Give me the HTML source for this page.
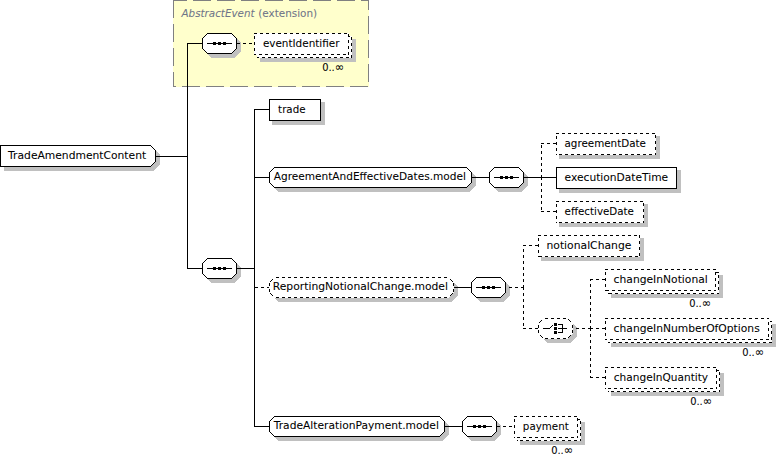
<!DOCTYPE html>
<html lang="en">
<head>
<meta charset="utf-8">
<title>TradeAmendmentContent</title>
<style>
html,body{margin:0;padding:0;background:#fff;}
body{width:777px;height:455px;overflow:hidden;}
svg{display:block;}
.bx{fill:#fff;stroke:#000;stroke-width:1;shape-rendering:crispEdges;}
.bg0{fill:#fff;stroke:none;shape-rendering:crispEdges;}
.bx.d{fill:none;}
.ln{fill:none;stroke:#000;stroke-width:1;shape-rendering:crispEdges;}
.d{stroke-dasharray:3 3;}
.sh{fill:#c0c0c0;stroke:#c0c0c0;stroke-width:1;shape-rendering:crispEdges;}
.shf{fill:#c0c0c0;shape-rendering:crispEdges;}
.bg{fill:#fff;shape-rendering:crispEdges;}
.k{fill:#000;shape-rendering:crispEdges;}
.yb{fill:none;stroke:#808080;stroke-width:1;stroke-dasharray:18 6;shape-rendering:crispEdges;}
text{font-family:"DejaVu Sans", "Liberation Sans", sans-serif;font-size:10.5px;fill:#000;stroke:#000;stroke-width:0.05px;}
.g{fill:#6e7488;stroke:#6e7488;font-size:11.2px;}
.i{font-style:italic;}
.o{text-anchor:end;}
.inf{font-size:12px;}
</style>
</head>
<body>
<svg width="777" height="455" viewBox="0 0 777 455">
<g>
<rect x="173" y="0" width="196" height="87" fill="#ffffcc" shape-rendering="crispEdges"/>
<line class="yb" x1="173" y1="0.5" x2="369" y2="0.5" stroke-dashoffset="4"/>
<line class="yb" x1="368.5" y1="0" x2="368.5" y2="87" stroke-dashoffset="8"/>
<line class="yb" x1="369" y1="86.5" x2="173" y2="86.5" stroke-dashoffset="23"/>
<line class="yb" x1="173.5" y1="87" x2="173.5" y2="0" stroke-dashoffset="3"/>
<text class="g i" x="181.5" y="17.2" textLength="73" lengthAdjust="spacingAndGlyphs">AbstractEvent</text>
<text class="g" x="258.2" y="16.7" textLength="59" lengthAdjust="spacingAndGlyphs">(extension)</text>
</g>
<g>
<polygon class="shf" points="4,148 153.5,148 160,154.5 160,164.5 153.5,171 4,171"/>
<polygon class="shf" points="205,42.5 211.5,36 234.5,36 241,42.5 241,51.5 234.5,58 211.5,58 205,51.5"/>
<polygon class="shf" points="205,267.5 211.5,261 234.5,261 241,267.5 241,276.5 234.5,283 211.5,283 205,276.5"/>
<rect class="shf" x="260" y="39" width="96" height="23"/>
<rect class="shf" x="272" y="102" width="53" height="23"/>
<polygon class="shf" points="272,176.5 278.5,170 469.5,170 476,176.5 476,185.5 469.5,192 278.5,192 272,185.5"/>
<polygon class="shf" points="492,176.5 498.5,170 521.5,170 528,176.5 528,185.5 521.5,192 498.5,192 492,185.5"/>
<rect class="shf" x="559" y="136" width="101" height="23"/>
<rect class="shf" x="559" y="170" width="122" height="23"/>
<rect class="shf" x="559" y="204" width="89" height="23"/>
<polygon class="shf" points="272,286.5 278.5,280 451.5,280 458,286.5 458,295.5 451.5,302 278.5,302 272,295.5"/>
<polygon class="shf" points="474,286.5 480.5,280 503.5,280 510,286.5 510,295.5 503.5,302 480.5,302 474,295.5"/>
<rect class="shf" x="541" y="238" width="103" height="23"/>
<polygon class="shf" points="541,327.5 547.5,321 570.5,321 577,327.5 577,336.5 570.5,343 547.5,343 541,336.5"/>
<rect class="shf" x="611" y="275" width="112" height="23"/>
<rect class="shf" x="611" y="324" width="165" height="23"/>
<rect class="shf" x="611" y="373" width="113" height="23"/>
<polygon class="shf" points="272,425.5 278.5,419 442.5,419 449,425.5 449,434.5 442.5,441 278.5,441 272,434.5"/>
<polygon class="shf" points="465,425.5 471.5,419 494.5,419 501,425.5 501,434.5 494.5,441 471.5,441 465,434.5"/>
<rect class="shf" x="520" y="422" width="65" height="23"/>
</g>
<g>
<line class="ln" x1="156" y1="156.5" x2="188" y2="156.5"/>
<line class="ln" x1="187.5" y1="43" x2="187.5" y2="269"/>
<line class="ln" x1="187" y1="43.5" x2="203" y2="43.5"/>
<line class="ln" x1="187" y1="268.5" x2="203" y2="268.5"/>
<line class="ln d" x1="237" y1="43.5" x2="254" y2="43.5"/>
<line class="ln" x1="237" y1="268.5" x2="255" y2="268.5"/>
<line class="ln" x1="254.5" y1="109" x2="254.5" y2="427"/>
<line class="ln" x1="254" y1="109.5" x2="270" y2="109.5"/>
<line class="ln" x1="254" y1="177.5" x2="270" y2="177.5"/>
<line class="ln d" x1="255" y1="287.5" x2="269" y2="287.5"/>
<line class="ln" x1="254" y1="426.5" x2="270" y2="426.5"/>
<line class="ln" x1="472" y1="177.5" x2="490" y2="177.5"/>
<line class="ln" x1="524" y1="177.5" x2="557" y2="177.5"/>
<line class="ln d" x1="541.5" y1="178" x2="541.5" y2="143"/>
<line class="ln d" x1="541.5" y1="177" x2="541.5" y2="212"/>
<line class="ln d" x1="541" y1="143.5" x2="556" y2="143.5"/>
<line class="ln d" x1="541" y1="211.5" x2="556" y2="211.5"/>
<line class="ln" x1="454" y1="287.5" x2="472" y2="287.5"/>
<line class="ln d" x1="524" y1="287.5" x2="506" y2="287.5"/>
<line class="ln d" x1="523.5" y1="288" x2="523.5" y2="245"/>
<line class="ln d" x1="523.5" y1="287" x2="523.5" y2="329"/>
<line class="ln d" x1="523" y1="245.5" x2="538" y2="245.5"/>
<line class="ln d" x1="523" y1="328.5" x2="538" y2="328.5"/>
<line class="ln d" x1="591" y1="328.5" x2="573" y2="328.5"/>
<line class="ln d" x1="590" y1="328.5" x2="605" y2="328.5"/>
<line class="ln d" x1="590.5" y1="329" x2="590.5" y2="279"/>
<line class="ln d" x1="590.5" y1="328" x2="590.5" y2="378"/>
<line class="ln d" x1="590" y1="279.5" x2="605" y2="279.5"/>
<line class="ln d" x1="590" y1="377.5" x2="605" y2="377.5"/>
<line class="ln" x1="445" y1="426.5" x2="463" y2="426.5"/>
<line class="ln d" x1="497" y1="426.5" x2="514" y2="426.5"/>
</g>
<g>
<polygon class="bx" points="0.5,145.5 150.5,145.5 155.5,150.5 155.5,161.5 150.5,166.5 0.5,166.5"/>
<text x="8.14" y="159" textLength="138.02" lengthAdjust="spacingAndGlyphs">TradeAmendmentContent</text>
<polygon class="bx" points="202.5,38.5 207.5,33.5 231.5,33.5 236.5,38.5 236.5,48.5 231.5,53.5 207.5,53.5 202.5,48.5"/>
<line class="ln" x1="207" y1="43.5" x2="232" y2="43.5"/>
<rect class="k" x="213" y="42" width="3" height="3"/>
<rect class="k" x="218" y="42" width="3" height="3"/>
<rect class="k" x="223" y="42" width="3" height="3"/>
<polygon class="bx" points="202.5,263.5 207.5,258.5 231.5,258.5 236.5,263.5 236.5,273.5 231.5,278.5 207.5,278.5 202.5,273.5"/>
<line class="ln" x1="207" y1="268.5" x2="232" y2="268.5"/>
<rect class="k" x="213" y="267" width="3" height="3"/>
<rect class="k" x="218" y="267" width="3" height="3"/>
<rect class="k" x="223" y="267" width="3" height="3"/>
<rect class="bg" x="257" y="36" width="95" height="22"/>
<line class="ln d" x1="257" y1="36.5" x2="352" y2="36.5"/>
<line class="ln d" x1="351.5" y1="36" x2="351.5" y2="58" stroke-dashoffset="5"/>
<line class="ln d" x1="352" y1="57.5" x2="257" y2="57.5" stroke-dashoffset="3"/>
<line class="ln d" x1="257.5" y1="36" x2="257.5" y2="58" stroke-dashoffset="3"/>
<rect class="bg" x="254" y="33" width="95" height="22"/>
<line class="ln d" x1="254" y1="33.5" x2="349" y2="33.5"/>
<line class="ln d" x1="348.5" y1="33" x2="348.5" y2="55" stroke-dashoffset="5"/>
<line class="ln d" x1="349" y1="54.5" x2="254" y2="54.5" stroke-dashoffset="3"/>
<line class="ln d" x1="254.5" y1="33" x2="254.5" y2="55" stroke-dashoffset="3"/>
<text x="262.89" y="47" textLength="76.61" lengthAdjust="spacingAndGlyphs">eventIdentifier</text>
<text x="322.2" y="71.3" textLength="22" lengthAdjust="spacingAndGlyphs">0..<tspan class="inf">∞</tspan></text>
<rect class="bx" x="269.5" y="99.5" width="51" height="21"/>
<text x="278.1" y="113" textLength="27.42" lengthAdjust="spacingAndGlyphs">trade</text>
<polygon class="bx" points="269.5,172.5 274.5,167.5 466.5,167.5 471.5,172.5 471.5,182.5 466.5,187.5 274.5,187.5 269.5,182.5"/>
<text x="273.75" y="180" textLength="192.12" lengthAdjust="spacingAndGlyphs">AgreementAndEffectiveDates.model</text>
<polygon class="bx" points="489.5,172.5 494.5,167.5 518.5,167.5 523.5,172.5 523.5,182.5 518.5,187.5 494.5,187.5 489.5,182.5"/>
<line class="ln" x1="494" y1="177.5" x2="519" y2="177.5"/>
<rect class="k" x="500" y="176" width="3" height="3"/>
<rect class="k" x="505" y="176" width="3" height="3"/>
<rect class="k" x="510" y="176" width="3" height="3"/>
<rect class="bg" x="556" y="133" width="100" height="22"/>
<line class="ln d" x1="556" y1="133.5" x2="656" y2="133.5"/>
<line class="ln d" x1="655.5" y1="133" x2="655.5" y2="155" stroke-dashoffset="4"/>
<line class="ln d" x1="656" y1="154.5" x2="556" y2="154.5" stroke-dashoffset="2"/>
<line class="ln d" x1="556.5" y1="133" x2="556.5" y2="155" stroke-dashoffset="3"/>
<text x="564.48" y="147" textLength="81.46" lengthAdjust="spacingAndGlyphs">agreementDate</text>
<rect class="bx" x="556.5" y="167.5" width="120" height="21"/>
<text x="564.62" y="181" textLength="103.57" lengthAdjust="spacingAndGlyphs">executionDateTime</text>
<rect class="bg" x="556" y="201" width="88" height="22"/>
<line class="ln d" x1="556" y1="201.5" x2="644" y2="201.5"/>
<line class="ln d" x1="643.5" y1="201" x2="643.5" y2="223" stroke-dashoffset="4"/>
<line class="ln d" x1="644" y1="222.5" x2="556" y2="222.5" stroke-dashoffset="2"/>
<line class="ln d" x1="556.5" y1="201" x2="556.5" y2="223" stroke-dashoffset="3"/>
<text x="564.61" y="215" textLength="69.33" lengthAdjust="spacingAndGlyphs">effectiveDate</text>
<polygon class="bg0" points="269,282.5 274.5,277 448.5,277 454,282.5 454,292.5 448.5,298 274.5,298 269,292.5"/>
<path class="k" d="M276 277h3v1h-3zM276 297h3v1h-3zM282 277h3v1h-3zM282 297h3v1h-3zM288 277h3v1h-3zM288 297h3v1h-3zM294 277h3v1h-3zM294 297h3v1h-3zM300 277h3v1h-3zM300 297h3v1h-3zM306 277h3v1h-3zM306 297h3v1h-3zM312 277h3v1h-3zM312 297h3v1h-3zM318 277h3v1h-3zM318 297h3v1h-3zM324 277h3v1h-3zM324 297h3v1h-3zM330 277h3v1h-3zM330 297h3v1h-3zM336 277h3v1h-3zM336 297h3v1h-3zM342 277h3v1h-3zM342 297h3v1h-3zM348 277h3v1h-3zM348 297h3v1h-3zM354 277h3v1h-3zM354 297h3v1h-3zM360 277h3v1h-3zM360 297h3v1h-3zM366 277h3v1h-3zM366 297h3v1h-3zM372 277h3v1h-3zM372 297h3v1h-3zM378 277h3v1h-3zM378 297h3v1h-3zM384 277h3v1h-3zM384 297h3v1h-3zM390 277h3v1h-3zM390 297h3v1h-3zM396 277h3v1h-3zM396 297h3v1h-3zM402 277h3v1h-3zM402 297h3v1h-3zM408 277h3v1h-3zM408 297h3v1h-3zM414 277h3v1h-3zM414 297h3v1h-3zM420 277h3v1h-3zM420 297h3v1h-3zM426 277h3v1h-3zM426 297h3v1h-3zM432 277h3v1h-3zM432 297h3v1h-3zM438 277h3v1h-3zM438 297h3v1h-3zM444 277h3v1h-3zM444 297h3v1h-3zM269 283h1v3h-1zM453 283h1v3h-1zM269 289h1v3h-1zM453 289h1v3h-1zM270 281h1v1h-1zM271 280h1v1h-1zM272 279h1v1h-1zM270 293h1v1h-1zM271 294h1v1h-1zM272 295h1v1h-1zM450 279h1v1h-1zM451 280h1v1h-1zM452 281h1v1h-1zM450 295h1v1h-1zM451 294h1v1h-1zM452 293h1v1h-1z"/>
<text x="272.75" y="290" textLength="175.16" lengthAdjust="spacingAndGlyphs">ReportingNotionalChange.model</text>
<polygon class="bx" points="471.5,282.5 476.5,277.5 500.5,277.5 505.5,282.5 505.5,292.5 500.5,297.5 476.5,297.5 471.5,292.5"/>
<line class="ln" x1="476" y1="287.5" x2="501" y2="287.5"/>
<rect class="k" x="482" y="286" width="3" height="3"/>
<rect class="k" x="487" y="286" width="3" height="3"/>
<rect class="k" x="492" y="286" width="3" height="3"/>
<rect class="bg" x="538" y="235" width="102" height="22"/>
<line class="ln d" x1="538" y1="235.5" x2="640" y2="235.5"/>
<line class="ln d" x1="639.5" y1="235" x2="639.5" y2="257"/>
<line class="ln d" x1="640" y1="256.5" x2="538" y2="256.5" stroke-dashoffset="4"/>
<line class="ln d" x1="538.5" y1="235" x2="538.5" y2="257" stroke-dashoffset="3"/>
<text x="546.48" y="249" textLength="84.91" lengthAdjust="spacingAndGlyphs">notionalChange</text>
<polygon class="bg0" points="538,323.5 543.5,318 567.5,318 573,323.5 573,333.5 567.5,339 543.5,339 538,333.5"/>
<path class="k" d="M545 318h3v1h-3zM545 338h3v1h-3zM551 318h3v1h-3zM551 338h3v1h-3zM557 318h3v1h-3zM557 338h3v1h-3zM563 318h3v1h-3zM563 338h3v1h-3zM538 325h1v3h-1zM572 325h1v3h-1zM538 330h1v3h-1zM572 330h1v3h-1zM539 322h1v1h-1zM540 321h1v1h-1zM541 320h1v1h-1zM540 335h1v1h-1zM541 336h1v1h-1zM542 337h1v1h-1zM568 319h1v1h-1zM569 320h1v1h-1zM570 321h1v1h-1zM568 337h1v1h-1zM569 336h1v1h-1zM570 335h1v1h-1z"/>
<line class="ln" x1="543" y1="328.5" x2="550" y2="328.5"/>
<path class="k" d="M550 327h1v1h-1zM551 326h1v1h-1zM552 325h1v1h-1z"/>
<rect class="k" x="554" y="323" width="3" height="3"/>
<rect class="k" x="554" y="327" width="3" height="3"/>
<rect class="k" x="554" y="331" width="3" height="3"/>
<line class="ln" x1="558" y1="324.5" x2="563" y2="324.5"/>
<line class="ln" x1="558" y1="332.5" x2="563" y2="332.5"/>
<line class="ln" x1="562.5" y1="324" x2="562.5" y2="333"/>
<line class="ln" x1="558" y1="328.5" x2="567" y2="328.5"/>
<rect class="bg" x="608" y="272" width="111" height="22"/>
<line class="ln d" x1="608" y1="272.5" x2="719" y2="272.5"/>
<line class="ln d" x1="718.5" y1="272" x2="718.5" y2="294" stroke-dashoffset="3"/>
<line class="ln d" x1="719" y1="293.5" x2="608" y2="293.5" stroke-dashoffset="1"/>
<line class="ln d" x1="608.5" y1="272" x2="608.5" y2="294" stroke-dashoffset="3"/>
<rect class="bg" x="605" y="269" width="111" height="22"/>
<line class="ln d" x1="605" y1="269.5" x2="716" y2="269.5"/>
<line class="ln d" x1="715.5" y1="269" x2="715.5" y2="291" stroke-dashoffset="3"/>
<line class="ln d" x1="716" y1="290.5" x2="605" y2="290.5" stroke-dashoffset="1"/>
<line class="ln d" x1="605.5" y1="269" x2="605.5" y2="291" stroke-dashoffset="3"/>
<text x="613.62" y="283" textLength="94.14" lengthAdjust="spacingAndGlyphs">changeInNotional</text>
<text x="689.2" y="307.3" textLength="22" lengthAdjust="spacingAndGlyphs">0..<tspan class="inf">∞</tspan></text>
<rect class="bg" x="608" y="321" width="164" height="22"/>
<line class="ln d" x1="608" y1="321.5" x2="772" y2="321.5"/>
<line class="ln d" x1="771.5" y1="321" x2="771.5" y2="343" stroke-dashoffset="2"/>
<line class="ln d" x1="772" y1="342.5" x2="608" y2="342.5"/>
<line class="ln d" x1="608.5" y1="321" x2="608.5" y2="343" stroke-dashoffset="3"/>
<rect class="bg" x="605" y="318" width="164" height="22"/>
<line class="ln d" x1="605" y1="318.5" x2="769" y2="318.5"/>
<line class="ln d" x1="768.5" y1="318" x2="768.5" y2="340" stroke-dashoffset="2"/>
<line class="ln d" x1="769" y1="339.5" x2="605" y2="339.5"/>
<line class="ln d" x1="605.5" y1="318" x2="605.5" y2="340" stroke-dashoffset="3"/>
<text x="613.62" y="332" textLength="146.14" lengthAdjust="spacingAndGlyphs">changeInNumberOfOptions</text>
<text x="742.2" y="356.3" textLength="22" lengthAdjust="spacingAndGlyphs">0..<tspan class="inf">∞</tspan></text>
<rect class="bg" x="608" y="370" width="112" height="22"/>
<line class="ln d" x1="608" y1="370.5" x2="720" y2="370.5"/>
<line class="ln d" x1="719.5" y1="370" x2="719.5" y2="392" stroke-dashoffset="4"/>
<line class="ln d" x1="720" y1="391.5" x2="608" y2="391.5" stroke-dashoffset="2"/>
<line class="ln d" x1="608.5" y1="370" x2="608.5" y2="392" stroke-dashoffset="3"/>
<rect class="bg" x="605" y="367" width="112" height="22"/>
<line class="ln d" x1="605" y1="367.5" x2="717" y2="367.5"/>
<line class="ln d" x1="716.5" y1="367" x2="716.5" y2="389" stroke-dashoffset="4"/>
<line class="ln d" x1="717" y1="388.5" x2="605" y2="388.5" stroke-dashoffset="2"/>
<line class="ln d" x1="605.5" y1="367" x2="605.5" y2="389" stroke-dashoffset="3"/>
<text x="613.76" y="381" textLength="94.37" lengthAdjust="spacingAndGlyphs">changeInQuantity</text>
<text x="690.2" y="405.3" textLength="22" lengthAdjust="spacingAndGlyphs">0..<tspan class="inf">∞</tspan></text>
<polygon class="bx" points="269.5,421.5 274.5,416.5 439.5,416.5 444.5,421.5 444.5,431.5 439.5,436.5 274.5,436.5 269.5,431.5"/>
<text x="273.75" y="429" textLength="165.14" lengthAdjust="spacingAndGlyphs">TradeAlterationPayment.model</text>
<polygon class="bx" points="462.5,421.5 467.5,416.5 491.5,416.5 496.5,421.5 496.5,431.5 491.5,436.5 467.5,436.5 462.5,431.5"/>
<line class="ln" x1="467" y1="426.5" x2="492" y2="426.5"/>
<rect class="k" x="473" y="425" width="3" height="3"/>
<rect class="k" x="478" y="425" width="3" height="3"/>
<rect class="k" x="483" y="425" width="3" height="3"/>
<rect class="bg" x="517" y="419" width="64" height="22"/>
<line class="ln d" x1="517" y1="419.5" x2="581" y2="419.5"/>
<line class="ln d" x1="580.5" y1="419" x2="580.5" y2="441" stroke-dashoffset="4"/>
<line class="ln d" x1="581" y1="440.5" x2="517" y2="440.5" stroke-dashoffset="2"/>
<line class="ln d" x1="517.5" y1="419" x2="517.5" y2="441" stroke-dashoffset="3"/>
<rect class="bg" x="514" y="416" width="64" height="22"/>
<line class="ln d" x1="514" y1="416.5" x2="578" y2="416.5"/>
<line class="ln d" x1="577.5" y1="416" x2="577.5" y2="438" stroke-dashoffset="4"/>
<line class="ln d" x1="578" y1="437.5" x2="514" y2="437.5" stroke-dashoffset="2"/>
<line class="ln d" x1="514.5" y1="416" x2="514.5" y2="438" stroke-dashoffset="3"/>
<text x="522.87" y="430" textLength="45.89" lengthAdjust="spacingAndGlyphs">payment</text>
<text x="551.2" y="454.3" textLength="22" lengthAdjust="spacingAndGlyphs">0..<tspan class="inf">∞</tspan></text>
</g>
</svg>
</body>
</html>
